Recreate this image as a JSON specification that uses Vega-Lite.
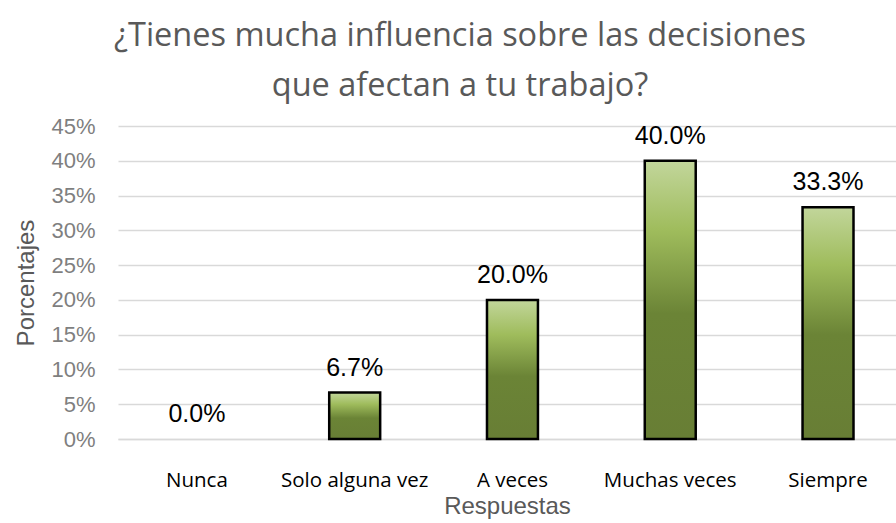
{
  "$schema": "https://vega.github.io/schema/vega-lite/v6.json",
  "autosize": {"type": "none"},
  "width": 778,
  "height": 313,
  "padding": {"left": 118, "top": 126, "right": 0, "bottom": 84},
  "background": "white",
  "title": {
    "text": ["¿Tienes mucha influencia sobre las decisiones", "que afectan a tu trabajo?"],
    "font": "Open Sans",
    "fontSize": 32.5,
    "fontWeight": "normal",
    "color": "#595959",
    "anchor": "middle",
    "dx": -47,
    "lineHeight": 50,
    "offset": 13
  },
  "data": {
    "values": [
      {"respuesta": "Nunca", "pct": 0.0},
      {"respuesta": "Solo alguna vez", "pct": 0.0667},
      {"respuesta": "A veces", "pct": 0.2},
      {"respuesta": "Muchas veces", "pct": 0.4},
      {"respuesta": "Siempre", "pct": 0.3333}
    ]
  },
  "config": {"view": {"stroke": null}},
  "encoding": {
    "x": {
      "field": "respuesta",
      "type": "nominal",
      "sort": null,
      "scale": {"paddingInner": 0.677, "paddingOuter": 0.304, "align": 0.557},
      "axis": {
        "title": "Respuestas",
        "titleFont": "Liberation Sans",
        "titleFontSize": 24,
        "titleFontWeight": "normal",
        "titleColor": "#595959",
        "titlePadding": 4,
        "labelAngle": 0,
        "labelFont": "Open Sans",
        "labelFontSize": 20.5,
        "labelColor": "#000000",
        "labelPadding": 31,
        "ticks": false,
        "domainColor": "#d9d9d9",
        "domainWidth": 1.5
      }
    },
    "y": {
      "field": "pct",
      "type": "quantitative",
      "scale": {"domain": [0, 0.45], "nice": false},
      "axis": {
        "title": "Porcentajes",
        "titleFont": "Liberation Sans",
        "titleFontSize": 24,
        "titleFontWeight": "normal",
        "titleColor": "#595959",
        "titlePadding": 12,
        "values": [0, 0.05, 0.1, 0.15, 0.2, 0.25, 0.3, 0.35, 0.4, 0.45],
        "format": ".0%",
        "labelFont": "Liberation Sans",
        "labelFontSize": 22,
        "labelColor": "#7f7f7f",
        "labelPadding": 23,
        "ticks": false,
        "domain": false,
        "gridColor": "#d9d9d9",
        "gridWidth": 1.5
      }
    }
  },
  "layer": [
    {
      "mark": {
        "type": "bar",
        "stroke": "#000000",
        "strokeWidth": 2.5,
        "color": {
          "gradient": "linear",
          "x1": 0, "y1": 0, "x2": 0, "y2": 1,
          "stops": [
            {"offset": 0, "color": "#c2d69b"},
            {"offset": 0.25, "color": "#9fbc5c"},
            {"offset": 0.55, "color": "#6b8436"},
            {"offset": 1, "color": "#687e35"}
          ]
        }
      },
      "encoding": {
        "strokeOpacity": {"condition": {"test": "datum.pct <= 0", "value": 0}, "value": 1}
      }
    },
    {
      "mark": {
        "type": "text",
        "font": "Liberation Sans",
        "fontSize": 25,
        "color": "#000000",
        "baseline": "alphabetic",
        "dy": -17
      },
      "encoding": {
        "text": {"field": "pct", "type": "quantitative", "format": ".1%"}
      }
    }
  ]
}
